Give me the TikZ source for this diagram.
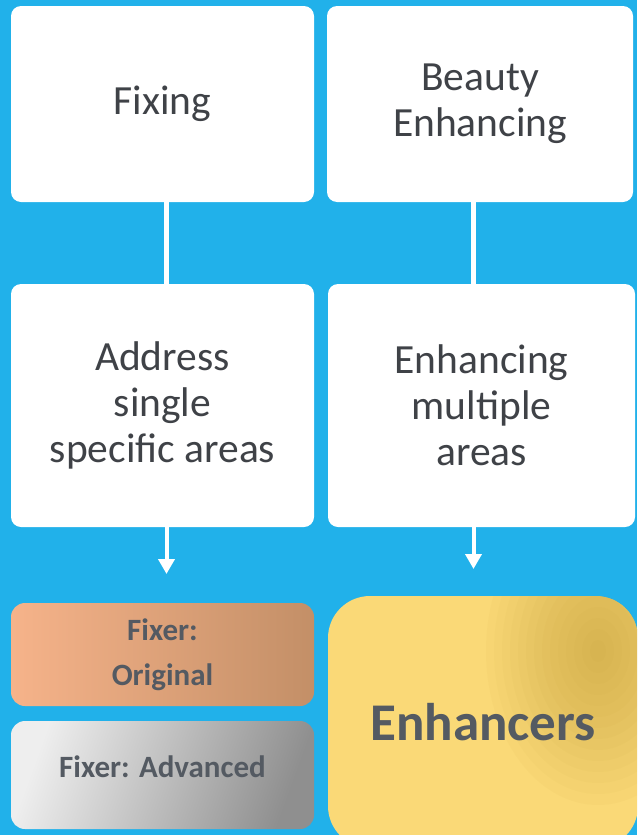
\documentclass[tikz,border=0pt]{standalone}
\usepackage{fontspec}
\setmainfont{Carlito}
\usetikzlibrary{arrows.meta,positioning}

\definecolor{skyblue}{HTML}{21B1EA}
\definecolor{textgray}{HTML}{3F4247}
\definecolor{tiergray}{HTML}{545A62}
\definecolor{copperlight}{HTML}{F6B38A}
\definecolor{copperdark}{HTML}{C38F67}
\definecolor{silverlight}{HTML}{EEEEEE}
\definecolor{silverdark}{HTML}{8F8F8F}
\definecolor{goldlight}{HTML}{FAD977}
\definecolor{golddark}{HTML}{B8922E}

\begin{document}
\begin{tikzpicture}[x=1pt,y=-1pt,>={Triangle[width=16pt,length=15pt]},thick,
  main box/.style={rounded corners=10pt,fill=white,text=textgray,align=center,inner sep=0pt,font=\fontsize{41.5}{46}\selectfont},
  tier box/.style={rounded corners=14pt,text=tiergray,align=center,inner sep=0pt,font=\bfseries\fontsize{31}{45}\selectfont},
  link/.style={draw=white,line width=5pt}]

    \useasboundingbox (0,0) rectangle (637,835);
    \clip (0,0) rectangle (637,835);
    \fill[skyblue] (0,0) rectangle (637,835);

    % top row
    \node[main box, minimum width=303pt, minimum height=196pt] (fix) at (162.5,104) {Fixing};
    \node[main box, minimum width=306pt, minimum height=196pt] (beauty) at (480,104) {Beauty\\Enhancing};

    % middle row
    \node[main box, minimum width=303pt, minimum height=243pt] (single) at (162.5,405.5) {Address\\single\\specific areas};
    \node[main box, minimum width=307pt, minimum height=243pt] (multi) at (481.5,405.5) {Enhancing\\multiple\\areas};

    % products
    \node[tier box, minimum width=303pt, minimum height=103pt, left color=copperlight, right color=copperdark] (orig) at (162.5,654.5) {Fixer:\\Original};
    \node[tier box, minimum width=303pt, minimum height=108pt, text depth=16pt, left color=silverlight, right color=silverdark, shading angle=70] (adv) at (162.5,775) {Fixer: Advanced};
    \node[tier box, rounded corners=42pt, minimum width=310pt, minimum height=252pt, fill=goldlight,
      path picture={
        \foreach \r in {1,...,14}
          \fill[golddark, opacity=0.045] ([xshift=-40pt,yshift=-55pt]path picture bounding box.north east) ellipse (\r*8pt and \r*11pt);
      },
      font=\bfseries\fontsize{53}{60}\selectfont] (enh) at (483,722) {Enhancers};

    \coordinate (tipL) at (166.5,574);
    \coordinate (tipR) at (473.5,569);

    \draw[link] (fix.south -| 166.5,0) -- (single.north -| 166.5,0);
    \draw[link] (beauty.south -| 473.5,0) -- (multi.north -| 473.5,0);
    \draw[link,line width=4pt,->,white] (single.south -| tipL) -- (tipL);
    \draw[link,line width=4pt,->,white] (multi.south -| tipR) -- (tipR);
\end{tikzpicture}
\end{document}
